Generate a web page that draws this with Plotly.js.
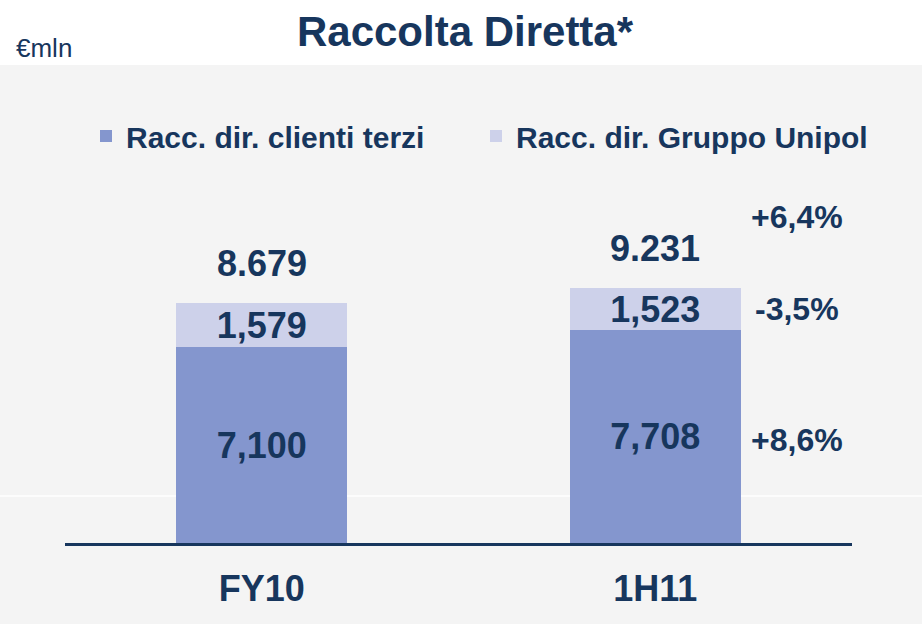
<!DOCTYPE html>
<html>
<head>
<meta charset="utf-8">
<script src="https://cdn.plot.ly/plotly-3.0.1.min.js"></script>
<style>html,body{margin:0;padding:0;background:#f4f4f4;}#chart{width:922px;height:624px;}</style>
</head>
<body>
<div id="chart"></div>
<script>
const categories = ['FY10', '1H11'];
const clientiTerzi = [7100, 7708];
const gruppoUnipol = [1579, 1523];
const totals = [8679, 9231];
const seriesNames = ['Racc. dir. clienti terzi', 'Racc. dir. Gruppo Unipol'];
const growthClienti = '+8,6%';
const growthGruppo = '-3,5%';
const growthTotal = '+6,4%';
const unitLabel = '€mln';
const chartTitle = 'Raccolta Diretta*';

const NAVY = '#17365d';
const DARK = '#8496ce';
const LIGHT = '#cdd1ea';
const FONT = 'Liberation Sans, Arial, sans-serif';

function fmt(n, sep) {
  return String(n).replace(/\B(?=(\d{3})+(?!\d))/g, sep);
}

const W = 922, H = 624;
const m = {l: 65, r: 70, t: 65, b: 81};
const pw = W - m.l - m.r, ph = H - m.t - m.b;

const segFont = {family: FONT, size: 36, color: NAVY, weight: 'bold'};
const traces = [
  {
    type: 'bar', name: seriesNames[0], x: categories, y: clientiTerzi, legend: 'legend',
    marker: {color: DARK, line: {width: 0}},
    text: clientiTerzi.map(v => fmt(v, ',')), textposition: 'inside',
    insidetextanchor: 'middle', constraintext: 'none', textfont: segFont,
    hoverinfo: 'skip'
  },
  {
    type: 'bar', name: seriesNames[1], x: categories, y: gruppoUnipol, legend: 'legend2',
    marker: {color: LIGHT, line: {width: 0}},
    text: gruppoUnipol.map(v => fmt(v, ',')), textposition: 'inside',
    insidetextanchor: 'middle', constraintext: 'none', textfont: segFont,
    hoverinfo: 'skip'
  }
];

const annFont = {family: FONT, size: 36, color: NAVY, weight: 'bold'};
const pctFont = {family: FONT, size: 32, color: NAVY, weight: 'bold'};
const annotations = [];
categories.forEach((c, i) => {
  annotations.push({x: c, y: totals[i], xref: 'x', yref: 'y', text: fmt(totals[i], '.'),
    showarrow: false, yshift: 40, yanchor: 'middle', font: annFont});
});
const last = categories.length - 1;
annotations.push({x: categories[last], y: clientiTerzi[last] / 2, xref: 'x', yref: 'y',
  text: growthClienti, showarrow: false, xshift: 142, yshift: -3, yanchor: 'middle', font: pctFont});
annotations.push({x: categories[last], y: clientiTerzi[last] + gruppoUnipol[last] / 2, xref: 'x', yref: 'y',
  text: growthGruppo, showarrow: false, xshift: 142, yanchor: 'middle', font: pctFont});
annotations.push({x: categories[last], y: totals[last], xref: 'x', yref: 'y',
  text: growthTotal, showarrow: false, xshift: 142, yshift: 71, yanchor: 'middle', font: pctFont});
annotations.push({x: (14 - m.l) / pw, y: 1 + (m.t - 48) / ph, xref: 'paper', yref: 'paper',
  text: unitLabel, showarrow: false, xanchor: 'left', yanchor: 'middle',
  font: {family: FONT, size: 26, color: NAVY}});

const legFont = {family: FONT, size: 30, color: NAVY, weight: 'bold'};
const legY = 1 - (136 - m.t) / ph;
const layout = {
  width: W, height: H,
  margin: m,
  paper_bgcolor: '#f4f4f4',
  plot_bgcolor: 'rgba(0,0,0,0)',
  barmode: 'stack',
  bargap: 0.565,
  showlegend: true,
  title: {text: chartTitle, x: 465 / W, xanchor: 'center', y: 1 - 31 / H, yanchor: 'middle',
    font: {family: FONT, size: 42, color: NAVY, weight: 'bold'}},
  legend: {orientation: 'h', x: (86 - m.l) / pw, xanchor: 'left', y: legY, yanchor: 'middle',
    bgcolor: 'rgba(0,0,0,0)', font: legFont},
  legend2: {orientation: 'h', x: (476 - m.l) / pw, xanchor: 'left', y: legY, yanchor: 'middle',
    bgcolor: 'rgba(0,0,0,0)', font: legFont},
  xaxis: {type: 'category', range: [-0.5, 1.5], showline: true, linecolor: NAVY, linewidth: 3,
    showgrid: false, zeroline: false, ticks: '', fixedrange: true,
    tickfont: {family: FONT, size: 36, color: NAVY, weight: 'bold'}, ticklabelstandoff: 12},
  yaxis: {range: [0, ph / 0.0276], visible: false, showgrid: false, zeroline: false, fixedrange: true},
  shapes: [
    {type: 'rect', xref: 'paper', yref: 'paper', x0: -m.l / pw, x1: (W - m.l) / pw, y0: 1, y1: 1 + m.t / ph + 0.01,
      fillcolor: '#ffffff', line: {width: 0}, layer: 'below'},
    {type: 'line', xref: 'paper', yref: 'paper', x0: -m.l / pw, x1: (W - m.l) / pw, y0: 47 / ph, y1: 47 / ph,
      line: {color: '#ffffff', width: 1.5}, layer: 'below'}
  ],
  annotations: annotations
};

Plotly.newPlot('chart', traces, layout, {displayModeBar: false, staticPlot: true});
</script>
</body>
</html>
